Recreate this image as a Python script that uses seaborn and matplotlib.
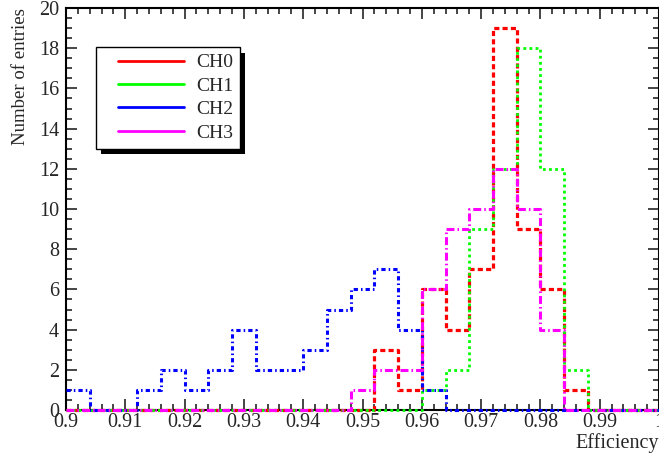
import numpy as np
import pandas as pd
import seaborn as sns
import matplotlib.pyplot as plt
import matplotlib.patheffects as pe
from matplotlib.lines import Line2D
from matplotlib.legend_handler import HandlerLine2D
from matplotlib.ticker import MultipleLocator, FuncFormatter

# histogram binning (25 bins of 0.004 between 0.9 and 1.0)
bin_edges = np.round(np.arange(0.9, 1.0 + 1e-9, 0.004), 3)
bin_centers = (bin_edges[:-1] + bin_edges[1:]) / 2

channels = ['CH0', 'CH1', 'CH2', 'CH3']
ch0_counts = [0, 0, 0, 0, 0, 0, 0, 0, 0, 0, 0, 0, 0, 3, 1, 6, 4, 7, 19, 9, 6, 1, 0, 0, 0]
ch1_counts = [0, 0, 0, 0, 0, 0, 0, 0, 0, 0, 0, 0, 0, 0, 0, 1, 2, 9, 12, 18, 12, 2, 0, 0, 0]
ch2_counts = [1, 0, 0, 1, 2, 1, 2, 4, 2, 2, 3, 5, 6, 7, 4, 1, 0, 0, 0, 0, 0, 0, 0, 0, 0]
ch3_counts = [0, 0, 0, 0, 0, 0, 0, 0, 0, 0, 0, 0, 1, 2, 2, 6, 9, 10, 12, 10, 4, 0, 0, 0, 0]

colors = ['#ff0000', '#00ff00', '#0000ff', '#ff00ff']
styles = [(0, (1.6, 1.0)), (0, (1.0, 1.2)), (0, (1.4, 1.0, 0.5, 1.0)), (0, (2.6, 1.0, 0.5, 1.0))]
widths = [2.3, 2.0, 2.2, 2.2]

sns.set_style('ticks')
plt.rcParams['font.family'] = ['Liberation Serif', 'DejaVu Serif']
plt.rcParams['font.size'] = 14

fig = plt.figure(figsize=(6.59, 4.55), dpi=100)
ax = fig.add_axes([66 / 659, 45 / 455, 593 / 659, 402 / 455])

for counts, c, ls, lw in zip([ch0_counts, ch1_counts, ch2_counts, ch3_counts], colors, styles, widths):
    df = pd.DataFrame({'eff': bin_centers, 'n': counts})
    sns.histplot(data=df, x='eff', weights='n', binwidth=0.004, binrange=(0.9, 1.0),
                 element='step', fill=False, color=c, linestyle=ls, linewidth=lw,
                 zorder=3, clip_on=False, ax=ax)

ax.set_xlim(0.9, 1.0)
ax.set_ylim(0, 20)
ax.xaxis.set_major_locator(MultipleLocator(0.01))
ax.xaxis.set_minor_locator(MultipleLocator(0.002))
ax.yaxis.set_major_locator(MultipleLocator(2))
ax.yaxis.set_minor_locator(MultipleLocator(0.5))
ax.xaxis.set_major_formatter(FuncFormatter(lambda v, p: '%g' % round(v, 3)))
ax.tick_params(which='both', direction='in', top=True, right=True, labelsize=14.5, width=1.2)
ax.tick_params(which='major', length=8)
ax.tick_params(which='minor', length=4)
ax.tick_params(axis='y', pad=5)
ax.tick_params(axis='x', pad=2)
for s in ax.spines.values():
    s.set_linewidth(1.5)
    s.set_color('black')

ax.set_xlabel('Efficiency', loc='right', fontsize=14.5, labelpad=1)
ax.set_ylabel('Number of entries', loc='top', fontsize=13.5, labelpad=7)

# legend shows solid lines, with extra room left of the line
handles = [Line2D([], [], color=c, lw=2) for c in colors]
leg = ax.legend(handles, channels, loc='upper left', bbox_to_anchor=(0.05, 0.903),
                frameon=True, fancybox=False, fontsize=14, handlelength=4.2,
                handletextpad=0.6, labelspacing=0.3, borderpad=0.35, borderaxespad=0,
                handler_map={Line2D: HandlerLine2D(xpad=0.8)})
frame = leg.get_frame()
frame.set_edgecolor('black')
frame.set_linewidth(1.0)
frame.set_alpha(1)
frame.set_path_effects([pe.SimplePatchShadow(offset=(4, -4), shadow_rgbFace='black', alpha=1),
                        pe.Normal()])

fig.savefig('out.png', dpi=100)
